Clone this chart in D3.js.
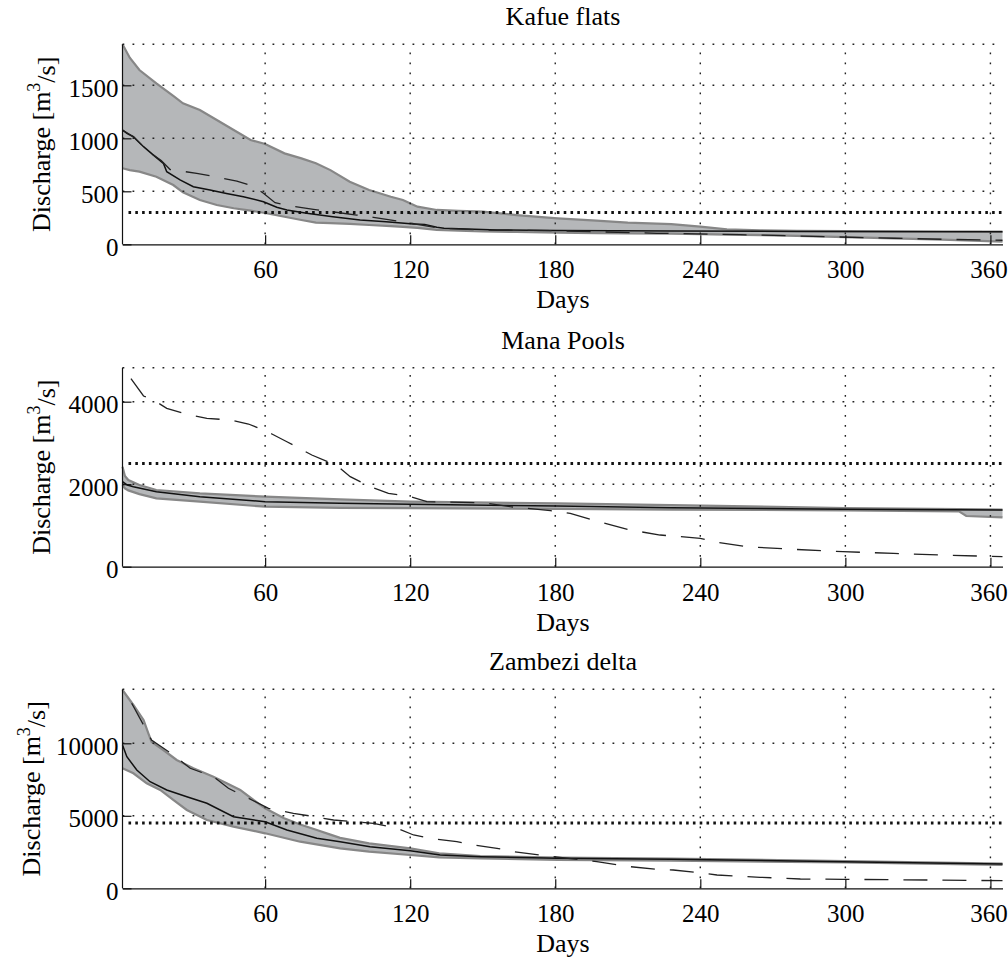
<!DOCTYPE html>
<html><head><meta charset="utf-8">
<script src="https://cdn.jsdelivr.net/npm/d3@7"></script>
<style>html,body{margin:0;padding:0;background:#fff}</style>
</head><body><svg id="chart" width="1008" height="967"></svg>
<script>
// ---------------- data (day, discharge m3/s) ----------------
const panelTitles = ["Kafue flats", "Mana Pools", "Zambezi delta"];
const dayTicks = [60, 120, 180, 240, 300, 360];
const dayDomain = [1, 365];

const kafueYTicks = [0, 500, 1000, 1500];
const manaYTicks = [0, 2000, 4000];
const zambeziYTicks = [0, 5000, 10000];
const yMaxima = [1887, 4824, 13724];
const thresholds = [300, 2500, 4500];

const kafueUpper = [[1,1887],[4,1760],[8,1644],[15,1519],[22,1400],[26,1330],[33,1267],[40,1173],[47,1078],[54,984],[60,946],[68,858],[75,811],[81,764],[87,700],[95,591],[103,512],[112,449],[117,418],[123,355],[131,324],[140,315],[150,308],[164,276],[181,245],[197,223],[210,205],[228,190],[240,166],[251,140],[265,132],[280,126],[300,124],[320,122],[340,121],[365,120]];
const kafueLower = [[1,717],[4,700],[8,685],[15,638],[22,559],[26,490],[33,418],[40,371],[47,340],[54,317],[60,295],[68,260],[75,229],[81,204],[87,200],[95,192],[103,182],[112,172],[117,165],[123,155],[131,137],[140,128],[150,121],[164,116],[181,110],[197,106],[210,104],[228,100],[240,96],[251,92],[265,86],[280,80],[300,68],[320,56],[340,44],[365,25]];
const kafueMedian = [[1,1078],[3,1045],[5.5,1015],[9.7,921],[13.8,842],[17.9,764],[19.3,685],[24.8,607],[30.3,543],[37.2,512],[44,480],[51,449],[59.3,402],[64.8,349],[69,324],[77.2,292],[88,260],[99.3,229],[110,212],[121.4,192],[126,188],[131,160],[134,151],[156,135],[180,130],[228,125],[280,121],[365,119]];
const kafueOther = [[1,1078],[5.5,1015],[9.7,921],[13.8,842],[17,790],[20.7,705],[31.7,670],[37.9,644],[48.3,597],[54.9,550],[59.3,481],[64.1,393],[71,361],[80,330],[90,300],[97.9,276],[104.8,254],[120,200],[132.4,151],[150,135],[180,128],[222,104],[256.6,91],[292,72],[320,57],[341,47],[365,38]];

const manaUpper = [[1,2424],[2,2200],[3.4,2101],[8,1980],[15,1859],[33,1779],[60,1697],[91,1630],[120,1576],[181,1535],[228,1495],[300,1420],[347,1395],[365,1385]];
const manaLower = [[1,1980],[2,1900],[3.4,1850],[8,1760],[15,1658],[33,1576],[60,1454],[91,1425],[120,1420],[181,1400],[228,1385],[300,1365],[347,1340],[350,1229],[365,1197]];
const manaMedian = [[1,2061],[3,1980],[5.5,1939],[15,1818],[33,1697],[60,1576],[91,1540],[120,1511],[181,1471],[228,1430],[299,1390],[365,1374]];
const manaOther = [[4.5,4560],[9.7,4138],[13.8,4041],[19.3,3839],[28.9,3677],[35.9,3597],[45.5,3556],[53.1,3459],[59.3,3314],[62.8,3217],[69,3030],[79.3,2707],[86,2540],[91,2385],[95.2,2182],[103.4,1939],[111,1779],[120,1697],[126.9,1576],[150,1552],[161.4,1454],[178,1358],[186.2,1293],[194.5,1148],[211,890],[223.4,768],[240,688],[245.5,606],[259.3,485],[278.6,421],[299,364],[320,323],[340.7,283],[365,242]];

const zambeziUpper = [[1,13676],[5.5,12642],[9.7,11607],[11.7,10690],[13,10111],[17.9,9538],[23.4,8849],[30.3,8276],[38.6,7697],[44.1,7241],[49.7,6780],[55.2,6090],[60,5518],[67.6,4850],[74.5,4400],[81.4,4020],[87,3700],[91,3480],[103,3104],[120,2759],[132,2414],[149,2225],[181,2115],[228,2045],[300,1880],[365,1700]];
const zambeziLower = [[1,8276],[5.5,7931],[11,7242],[16.6,6780],[22,6090],[27.6,5400],[35.9,4710],[46.9,4250],[60,3793],[74.5,3214],[91,2759],[103,2524],[120,2297],[132,2138],[149,2069],[181,1952],[228,1904],[300,1780],[365,1620]];
const zambeziMedian = [[1,9883],[2.8,9077],[6.9,8159],[12.4,7352],[19.3,6780],[27.6,6318],[35.9,5862],[46.9,4938],[60,4594],[69,4021],[81.4,3449],[91,3214],[103.4,2869],[120,2593],[132.4,2297],[149,2179],[180.7,2069],[228,2000],[299,1835],[365,1676]];
const zambeziOther = [[4.8,12759],[9.7,11262],[13,10228],[22,9194],[29,8276],[38.6,7697],[44.8,6897],[54.5,6090],[61.4,5518],[71.7,5173],[78.6,4987],[88.3,4711],[104.8,4483],[114.5,4138],[121.4,3676],[128.3,3449],[139.3,3214],[146.2,2986],[155.9,2759],[162.8,2524],[176.6,2228],[197.2,1835],[211,1490],[222,1310],[228.8,1262],[240,1076],[246.9,917],[264.8,759],[281.4,641],[299,621],[333.8,572],[365,524]];

// ---------------- layout ----------------
const FONT = '"Liberation Serif","Times New Roman",Times,serif';
const svg = d3.select('#chart');
svg.append('rect').attr('width',1008).attr('height',967).attr('fill','#fff');

const x = d3.scaleLinear().domain(dayDomain).range([122.5, 1002.5]);
const tops = [44.3, 367.7, 689.3];
const bottoms = [244.3, 566.7, 888.3];
const ylabelX = [42, 42, 32];

const panels = [
  {title: panelTitles[0], yTicks: kafueYTicks, upper: kafueUpper, lower: kafueLower, median: kafueMedian, other: kafueOther},
  {title: panelTitles[1], yTicks: manaYTicks, upper: manaUpper, lower: manaLower, median: manaMedian, other: manaOther},
  {title: panelTitles[2], yTicks: zambeziYTicks, upper: zambeziUpper, lower: zambeziLower, median: zambeziMedian, other: zambeziOther}
];

panels.forEach((p, i) => {
  const y = d3.scaleLinear().domain([0, yMaxima[i]]).range([bottoms[i], tops[i]]);
  const g = svg.append('g');
  const line = d3.line().x(d => x(d[0])).y(d => y(d[1]));
  const x0 = x.range()[0], x1 = x.range()[1];

  // band
  const poly = p.upper.concat(p.lower.slice().reverse());
  g.append('path').attr('d', line(poly) + 'Z').attr('fill', '#b5b7b9').attr('stroke', 'none');
  [p.upper, p.lower].forEach(s => g.append('path').attr('d', line(s))
    .attr('fill','none').attr('stroke','#878787').attr('stroke-width',2.2));

  // grid
  const gridY = p.yTicks.filter(v => v > 0).map(v => y(v)).concat([tops[i]]);
  gridY.forEach(yy => g.append('line').attr('x1', x0).attr('x2', x1).attr('y1', yy).attr('y2', yy)
    .attr('stroke','#222').attr('stroke-width',1.4).attr('stroke-dasharray','1.8,8.2'));
  dayTicks.forEach(t => g.append('line').attr('x1', x(t)).attr('x2', x(t)).attr('y1', bottoms[i]).attr('y2', tops[i])
    .attr('stroke','#222').attr('stroke-width',1.4).attr('stroke-dasharray','1.8,8.2'));

  // threshold
  g.append('line').attr('x1', x0 + 6).attr('x2', x1).attr('y1', y(thresholds[i])).attr('y2', y(thresholds[i]))
    .attr('stroke','#111').attr('stroke-width',3).attr('stroke-dasharray','2.6,4.2');

  // median (solid) & other (dashed)
  g.append('path').attr('d', line(p.median)).attr('fill','none').attr('stroke','#111').attr('stroke-width',1.5);
  g.append('path').attr('d', line(p.other)).attr('fill','none').attr('stroke','#222').attr('stroke-width',1.3)
    .attr('stroke-dasharray','24,15');

  // axes
  const ax = g.append('g').attr('transform', `translate(0,${bottoms[i]})`)
    .call(d3.axisBottom(x).tickValues(dayTicks).tickSize(-9).tickSizeOuter(0));
  ax.select('.domain').attr('stroke','#111').attr('stroke-width',1.2);
  ax.selectAll('.tick line').attr('stroke','#111').attr('stroke-width',1.2);
  ax.selectAll('.tick text').attr('y', 34).attr('dy', null)
    .attr('x', d => d === 360 ? -2 : 0)
    .attr('font-family', FONT).attr('font-size', 25).attr('fill','#000');

  const ay = g.append('g').attr('transform', `translate(${x0},0)`)
    .call(d3.axisLeft(y).tickValues(p.yTicks).tickFormat(d3.format('d')).tickSize(-9).tickSizeOuter(0));
  ay.select('.domain').attr('stroke','#111').attr('stroke-width',1.2);
  ay.selectAll('.tick line').attr('stroke','#111').attr('stroke-width',1.2);
  ay.selectAll('.tick text').attr('x', -4).attr('dy', null).attr('y', 11)
    .attr('font-family', FONT).attr('font-size', 25).attr('fill','#000');
  ay.select('.domain').attr('d', `M0,${bottoms[i]}V${tops[i]}`);

  // title and labels
  svg.append('text').attr('x', 563).attr('y', tops[i] - 19).attr('text-anchor','middle')
    .attr('font-family', FONT).attr('font-size', 26).text(p.title);
  svg.append('text').attr('x', 563).attr('y', bottoms[i] + 64).attr('text-anchor','middle')
    .attr('font-family', FONT).attr('font-size', 26).text('Days');
  const yl = svg.append('text')
    .attr('transform', `translate(${ylabelX[i]},${(tops[i] + bottoms[i]) / 2}) rotate(-90)`)
    .attr('text-anchor','middle').attr('dy','0.32em')
    .attr('font-family', FONT).attr('font-size', 26);
  yl.append('tspan').text('Discharge [m');
  yl.append('tspan').attr('dy','-0.55em').attr('font-size', 18).text('3');
  yl.append('tspan').attr('dy','0.55em').text('/s]');
});
</script>
</body></html>
